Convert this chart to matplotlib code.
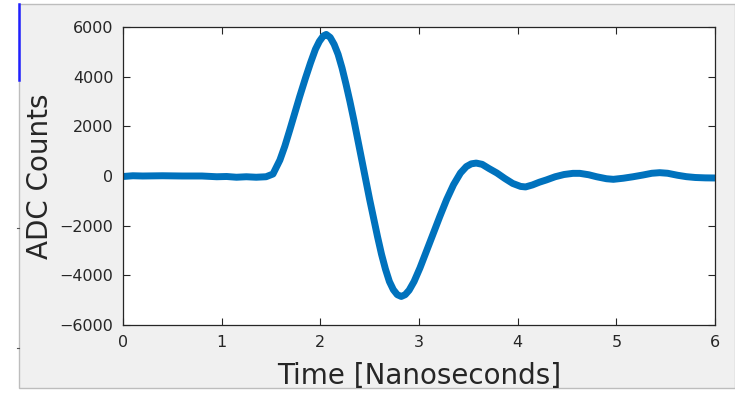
import matplotlib
matplotlib.use("Agg")
import matplotlib.pyplot as plt
from matplotlib.patches import Rectangle
from matplotlib.lines import Line2D

time_ns = [0.0, 0.1, 0.2, 0.4, 0.6, 0.8, 0.95, 1.05, 1.15, 1.25, 1.35, 1.45,
           1.52, 1.59, 1.64, 1.69, 1.74, 1.79, 1.85, 1.90, 1.95, 1.99, 2.03,
           2.06, 2.10, 2.14, 2.18, 2.22, 2.26, 2.30, 2.34, 2.38, 2.42, 2.46,
           2.50, 2.54, 2.58, 2.62, 2.66, 2.70, 2.74, 2.78, 2.82, 2.86, 2.90,
           2.95, 3.01, 3.08, 3.15, 3.21, 3.28, 3.35, 3.42, 3.48, 3.53, 3.58,
           3.64, 3.71, 3.79, 3.87, 3.95, 4.03, 4.08, 4.15, 4.22, 4.29, 4.38,
           4.47, 4.56, 4.63, 4.72, 4.80, 4.90, 4.97, 5.07, 5.17, 5.27, 5.36,
           5.44, 5.52, 5.62, 5.71, 5.80, 5.90, 6.0]
adc_counts = [-20, 10, 0, 10, 0, 0, -30, -20, -50, -30, -50, -30,
              80, 640, 1200, 1850, 2520, 3190, 3950, 4550, 5100, 5420, 5640,
              5700, 5580, 5300, 4900, 4350, 3700, 3000, 2250, 1450, 650, -150,
              -950, -1700, -2450, -3150, -3750, -4250, -4580, -4780, -4850, -4780, -4600,
              -4250, -3700, -2980, -2260, -1640, -950, -350, 120, 380, 490, 520,
              470, 300, 120, -100, -300, -420, -440, -360, -250, -160, -30,
              60, 107, 107, 50, -30, -110, -134, -90, -30, 40, 110,
              134, 110, 30, -27, -60, -75, -80]

x_ticks = [0, 1, 2, 3, 4, 5, 6]
y_ticks = [-6000, -4000, -2000, 0, 2000, 4000, 6000]
x_label = "Time [Nanoseconds]"
y_label = "ADC Counts"

W, H = 735, 393
fig = plt.figure(figsize=(W / 100, H / 100), dpi=100, facecolor="white")

# grey MATLAB figure panel
fig.patches.append(Rectangle((19 / W, 1 - 388 / H), (W - 19) / W, (388 - 4) / H,
                             transform=fig.transFigure, facecolor="#f0f0f0",
                             edgecolor="#bdbdbd", linewidth=1.0, zorder=-10))
# blue window edge fragment at top-left
fig.lines.append(Line2D([18.5 / W, 18.5 / W], [1 - 4 / H, 1 - 80 / H],
                        transform=fig.transFigure, color="#2020ff", linewidth=1.8))
for yy in (228, 348):
    fig.lines.append(Line2D([17 / W, 19 / W], [1 - yy / H, 1 - yy / H],
                            transform=fig.transFigure, color="#555555", linewidth=0.8))

ax = fig.add_axes([123 / W, 1 - 325 / H, (715 - 123) / W, (325 - 27) / H])
ax.set_facecolor("white")
ax.plot(time_ns, adc_counts, color="#0072BD", linewidth=5.0,
        solid_capstyle="butt", solid_joinstyle="round")

ax.set_xlim(0, 6)
ax.set_ylim(-6000, 6000)
ax.set_xticks(x_ticks)
ax.set_yticks(y_ticks)
axcol = "#262626"
for s in ax.spines.values():
    s.set_color(axcol)
    s.set_linewidth(0.9)
ax.tick_params(direction="in", length=5, width=0.8, color=axcol,
               labelcolor=axcol, labelsize=11.5, top=True, right=True,
               pad=7)
ax.set_xlabel(x_label, fontsize=20, color=axcol, labelpad=9)
ax.set_ylabel(y_label, fontsize=20, color=axcol, labelpad=4)

fig.savefig("out.png", dpi=100, facecolor=fig.get_facecolor())
